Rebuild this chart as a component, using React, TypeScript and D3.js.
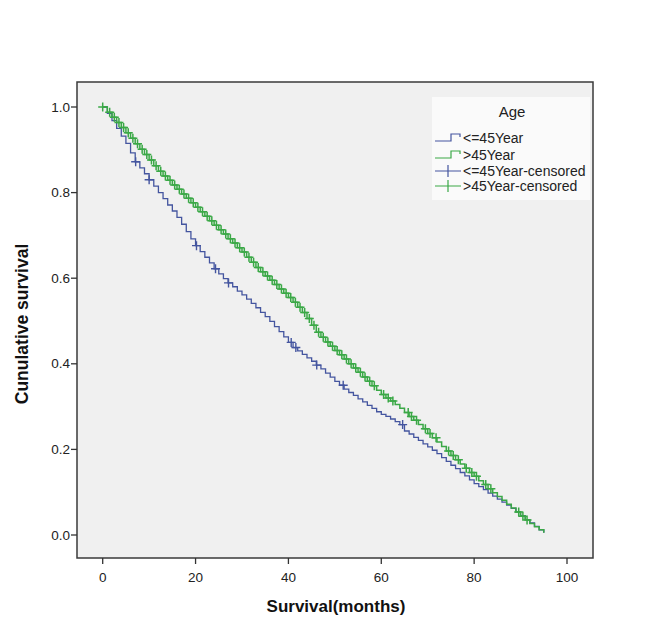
import React from "react";
import * as d3 from "d3";

// ---- Data ----
const xTicks = [0, 20, 40, 60, 80, 100];
const yTicks = [0.0, 0.2, 0.4, 0.6, 0.8, 1.0];

// >45Year: step times (months) and survival after the step
const olderTimes = [0,1,2,3,4,5,6,7,8,9,10,11,12,13,14,15,16,17,18,19,20,21,22,23,24,25,26,27,28,29,30,31,32,33,34,35,36,37,38,39,40,41,42,43,44,45,46,47,48,49,50,51,52,53,54,55,56,57,58,59,60,61,62,63,64,65,66,67,68,69,70,71,72,73,74,75,76,77,78,79,80,81,82,83,84,85,86,87,88,89,90,91,92,93,94,95];
const olderSurv = [1.0,0.988,0.976,0.964,0.952,0.940,0.927,0.914,0.901,0.889,0.876,0.863,0.850,0.839,0.829,0.818,0.808,0.797,0.787,0.776,0.766,0.755,0.745,0.734,0.724,0.713,0.703,0.692,0.682,0.671,0.661,0.649,0.637,0.625,0.615,0.605,0.595,0.585,0.575,0.565,0.555,0.544,0.532,0.520,0.506,0.490,0.474,0.462,0.451,0.441,0.431,0.421,0.411,0.400,0.390,0.380,0.369,0.359,0.349,0.338,0.328,0.320,0.313,0.305,0.296,0.286,0.277,0.268,0.258,0.248,0.237,0.227,0.217,0.207,0.196,0.186,0.176,0.166,0.156,0.146,0.137,0.127,0.118,0.108,0.099,0.090,0.081,0.072,0.063,0.054,0.044,0.035,0.027,0.019,0.012,0.005];
const olderCensored = [0,1.5,2.5,3.5,4.5,5.5,6.5,7.5,8.5,9.5,10.5,11.5,12.5,13.5,14.5,15.5,16.5,17.5,18.5,19.5,20.5,21.5,22.5,23.5,24.5,25.5,26.5,27.5,28.5,29.5,30.5,31.5,32.5,33.5,34.5,35.5,36.5,37.5,38.5,39.5,40.5,41.5,42.5,43.5,44.5,45.5,46.5,47.5,48.5,49.5,50.5,51.5,52.5,53.5,54.5,55.5,56.5,57.5,58.5,60.5,61.5,62.5,65.8,66.5,67.6,69.5,70.5,71.8,74.5,75.5,76.6,78.3,79.5,80.5,82.5,83.6,89.6,90.5,91.4];

// <=45Year
const youngTimes = [0,1,2,3,4,5,6,7,8,9,10,11,12,13,14,15,16,17,18,19,20,21,22,23,24,25,26,27,28,29,30,31,32,33,34,35,36,37,38,39,40,41,42,43,44,45,46,47,48,49,50,51,52,53,54,55,56,57,58,59,60,61,62,63,64,65,66,67,68,69,70,71,72,73,74,75,76,77,78,79,80,81,82,83,84,85,86,87,88,89,90,91,92,93,94,95];
const youngSurv = [1.0,0.985,0.968,0.950,0.932,0.915,0.893,0.872,0.858,0.844,0.830,0.815,0.800,0.786,0.771,0.757,0.742,0.726,0.709,0.692,0.676,0.662,0.649,0.636,0.622,0.610,0.599,0.589,0.580,0.570,0.561,0.551,0.541,0.531,0.520,0.510,0.499,0.487,0.475,0.463,0.450,0.438,0.430,0.422,0.414,0.406,0.397,0.388,0.378,0.369,0.359,0.350,0.341,0.333,0.326,0.318,0.311,0.303,0.296,0.288,0.282,0.277,0.271,0.265,0.258,0.243,0.236,0.228,0.221,0.213,0.206,0.198,0.190,0.181,0.172,0.163,0.155,0.146,0.138,0.129,0.120,0.113,0.106,0.098,0.091,0.084,0.077,0.070,0.062,0.054,0.045,0.036,0.028,0.020,0.012,0.005];
const youngCensored = [7.1, 10.0, 20.2, 24.3, 27.1, 40.6, 41.6, 46.1, 51.8, 64.6];

const legendTitle = "Age";
const legendLabels = ["<=45Year", ">45Year", "<=45Year-censored", ">45Year-censored"];

const BLUE = "#44559f";
const GREEN = "#3aa846";

export default function App() {
  const W = 666, H = 634;
  const frame = { left: 77, right: 593, top: 82, bottom: 558 };
  const x = d3.scaleLinear().domain([0, 100]).range([102.7, 567]);
  const y = d3.scaleLinear().domain([0, 1]).range([535, 107]);

  const line = d3
    .line<[number, number]>()
    .x((d) => x(d[0]))
    .y((d) => y(d[1]))
    .curve(d3.curveStepAfter);

  const olderPts: [number, number][] = olderTimes.map((t, i) => [t, olderSurv[i]]);
  const youngPts: [number, number][] = youngTimes.map((t, i) => [t, youngSurv[i]]);

  const survAt = (times: number[], surv: number[], t: number) => {
    const i = d3.bisectRight(times, t) - 1;
    return surv[Math.max(0, i)];
  };

  const cross = (cx: number, cy: number, r: number) =>
    `M${cx - r},${cy}H${cx + r}M${cx},${cy - r}V${cy + r}`;

  const olderCross = olderCensored
    .map((t) => cross(x(t), y(survAt(olderTimes, olderSurv, t)), 4.5))
    .join("");
  const youngCross = youngCensored
    .map((t) => cross(x(t), y(survAt(youngTimes, youngSurv, t)), 4.5))
    .join("");

  const font = "Arial, 'Liberation Sans', sans-serif";
  const legendX = 435;
  const legendRows = [138, 155, 171, 186];

  return (
    <svg width={W} height={H} style={{ display: "block", position: "absolute", left: 0, top: 0 }}>
      <rect x={0} y={0} width={W} height={H} fill="#ffffff" />
      <rect
        x={frame.left}
        y={frame.top}
        width={frame.right - frame.left}
        height={frame.bottom - frame.top}
        fill="#f0f0f0"
        stroke="#3a3a3a"
        strokeWidth={1.5}
      />

      {/* Y axis ticks */}
      {yTicks.map((v) => (
        <g key={"y" + v}>
          <line x1={frame.left - 6} x2={frame.left} y1={y(v)} y2={y(v)} stroke="#333" strokeWidth={1.3} />
          <text x={frame.left - 7} y={y(v) + 4.5} textAnchor="end" fontFamily={font} fontSize={13.5} fill="#222">
            {v.toFixed(1)}
          </text>
        </g>
      ))}
      {/* X axis ticks */}
      {xTicks.map((v) => (
        <g key={"x" + v}>
          <line x1={x(v)} x2={x(v)} y1={frame.bottom} y2={frame.bottom + 6} stroke="#333" strokeWidth={1.3} />
          <text x={x(v)} y={582} textAnchor="middle" fontFamily={font} fontSize={13.5} fill="#222">
            {v}
          </text>
        </g>
      ))}

      {/* Curves */}
      <path d={line(youngPts) || ""} fill="none" stroke={BLUE} strokeWidth={1.3} />
      <path d={line(olderPts) || ""} fill="none" stroke={GREEN} strokeWidth={1.5} />
      <path d={youngCross} fill="none" stroke={BLUE} strokeWidth={1.4} />
      <path d={olderCross} fill="none" stroke={GREEN} strokeWidth={1.5} />

      {/* Axis titles */}
      <text x={336} y={612} textAnchor="middle" fontFamily={font} fontSize={17} fontWeight="bold" fill="#111">
        Survival(months)
      </text>
      <text
        transform={`translate(28,324) rotate(-90)`}
        textAnchor="middle"
        fontFamily={font}
        fontSize={17.5}
        fontWeight="bold"
        fill="#111"
      >
        Cunulative survival
      </text>

      {/* Legend */}
      <rect x={432} y={97} width={158} height={103} fill="#fafafa" />
      <text x={512} y={117} textAnchor="middle" fontFamily={font} fontSize={15} fill="#222">
        {legendTitle}
      </text>
      {legendLabels.map((lab, i) => {
        const ry = legendRows[i];
        const color = i % 2 === 0 ? BLUE : GREEN;
        const symbol =
          i < 2
            ? `M${legendX},${ry + 3}H${legendX + 16}V${ry - 4}H${legendX + 25}V${ry - 1}`
            : `M${legendX},${ry}H${legendX + 26}M${legendX + 13},${ry - 6}V${ry + 6}`;
        return (
          <g key={lab}>
            <path d={symbol} fill="none" stroke={color} strokeWidth={1.2} />
            <text x={legendX + 28} y={ry + 5} fontFamily={font} fontSize={14} fill="#222">
              {lab}
            </text>
          </g>
        );
      })}
    </svg>
  );
}
